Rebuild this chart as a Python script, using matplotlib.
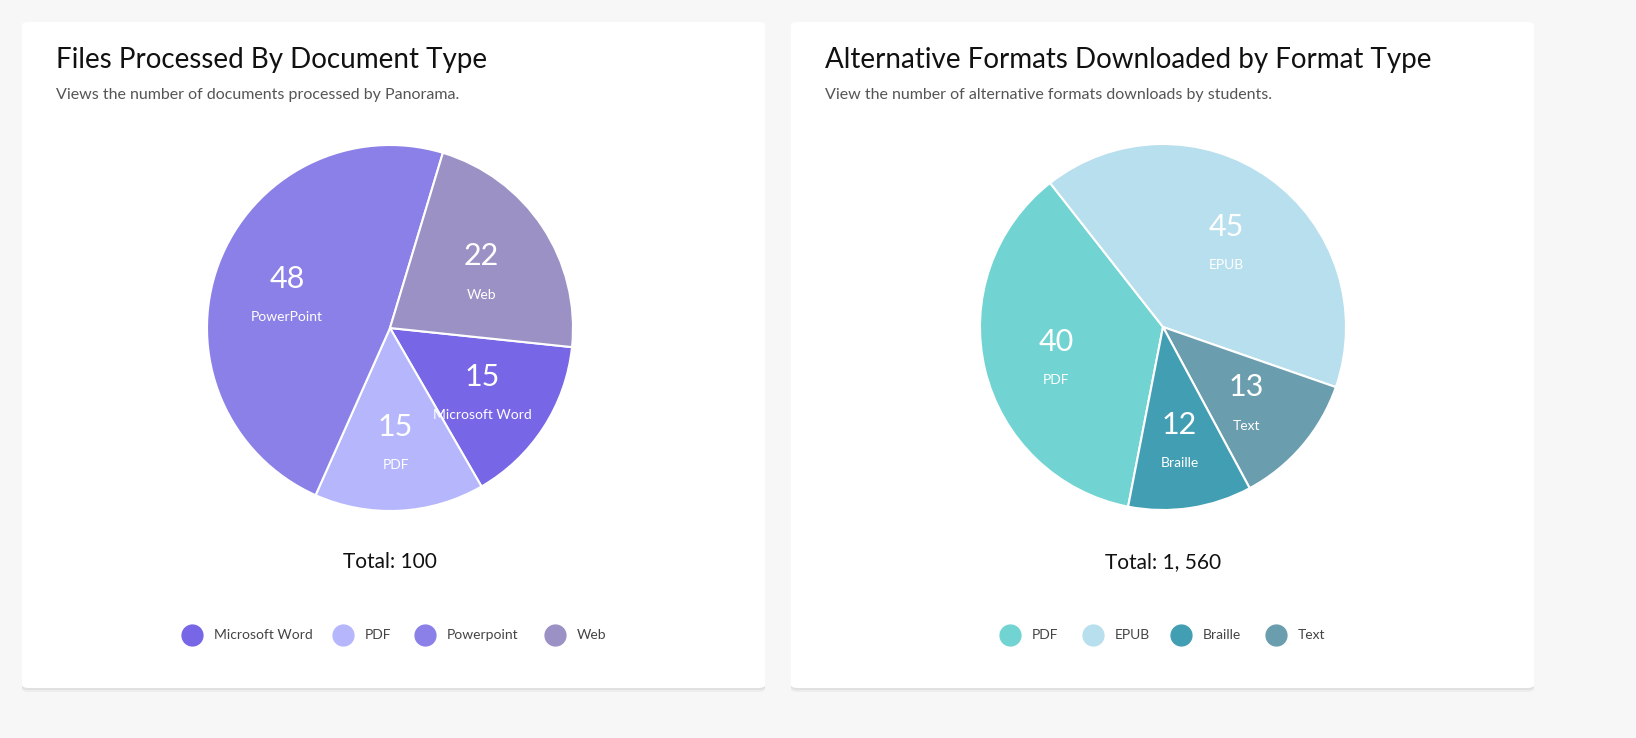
import matplotlib
matplotlib.use("Agg")
import matplotlib.pyplot as plt
from matplotlib.patches import FancyBboxPatch
from matplotlib.lines import Line2D
import numpy as np

left_title = "Files Processed By Document Type"
left_sub = "Views the number of documents processed by Panorama."
left_cats = ["Microsoft Word", "PDF", "PowerPoint", "Web"]
left_legend = ["Microsoft Word", "PDF", "Powerpoint", "Web"]
left_vals = [15, 15, 48, 22]
left_cols = ["#7766e6", "#b6b6fc", "#8b80e8", "#9b91c4"]
left_total = "Total: 100"

right_title = "Alternative Formats Downloaded by Format Type"
right_sub = "View the number of alternative formats downloads by students."
right_cats = ["PDF", "EPUB", "Braille", "Text"]
right_vals = [40, 45, 12, 13]
right_cols = ["#72d3d3", "#b8dfed", "#429eb3", "#6a9dad"]
right_total = "Total: 1, 560"

W, H = 1636, 738
fig = plt.figure(figsize=(W/100, H/100), dpi=100)
fig.patch.set_facecolor("#f7f7f7")
FONT = "Lato"

def card(x0, x1):
    for off, a in [(4, 0.04), (2, 0.05)]:
        fig.patches.append(FancyBboxPatch((x0/W, (H-688-off)/H), (x1-x0)/W, 666/H,
            boxstyle="round,pad=0,rounding_size=0.004", transform=fig.transFigure,
            facecolor="black", alpha=a, edgecolor="none", zorder=-3))
    fig.patches.append(FancyBboxPatch((x0/W, (H-688)/H), (x1-x0)/W, 666/H,
        boxstyle="round,pad=0,rounding_size=0.004", transform=fig.transFigure,
        facecolor="white", edgecolor="none", zorder=-2))

def panel(x0, x1, cx, cy, title, sub, cats, legend, vals, cols, total, order, start, legx):
    card(x0, x1)
    fig.text((x0+34)/W, 1-60/H, title, fontsize=20, family=FONT, color="#111", va="center")
    fig.text((x0+34)/W, 1-95/H, sub, fontsize=11.5, family=FONT, color="#555", va="center")
    r = 183
    ax = fig.add_axes([(cx-r)/W, 1-(cy+r)/H, 2*r/W, 2*r/H], zorder=2)
    ax.patch.set_visible(False)
    v = [vals[i] for i in order]
    c = [cols[i] for i in order]
    n = [cats[i] for i in order]
    wedges, _ = ax.pie(v, colors=c, startangle=start, counterclock=False,
                       wedgeprops=dict(edgecolor="white", linewidth=1.5))
    for w, val, name in zip(wedges, v, n):
        ang = np.deg2rad((w.theta1 + w.theta2) / 2)
        x, y = 0.6*np.cos(ang), 0.6*np.sin(ang)
        ax.text(x, y+0.06, str(val), ha="center", va="center", fontsize=22, color="white", family=FONT)
        ax.text(x, y-0.15, name, ha="center", va="center", fontsize=10, color="white", family=FONT)
    ax.set_xlim(-1, 1); ax.set_ylim(-1, 1); ax.set_aspect("equal"); ax.axis("off")
    fig.text(cx/W, 1-562/H, total, ha="center", va="center", fontsize=15, family=FONT, color="#111")
    for lx, lab, col in zip(legx, legend, cols):
        fig.add_artist(Line2D([lx/W], [1-635/H], marker="o", markersize=15, color=col,
                              linestyle="none", transform=fig.transFigure))
        fig.text((lx+22)/W, 1-635/H, lab, va="center", fontsize=10, family=FONT, color="#444")

panel(22, 765, 390, 328, left_title, left_sub, left_cats, left_legend, left_vals, left_cols,
      left_total, [0, 1, 2, 3], -6, [192, 343, 425, 555])
panel(791, 1534, 1163, 327, right_title, right_sub, right_cats, right_cats, right_vals, right_cols,
      right_total, [0, 1, 3, 2], -101, [1010, 1093, 1181, 1276])
fig.savefig("out.png", dpi=100, facecolor=fig.get_facecolor())
